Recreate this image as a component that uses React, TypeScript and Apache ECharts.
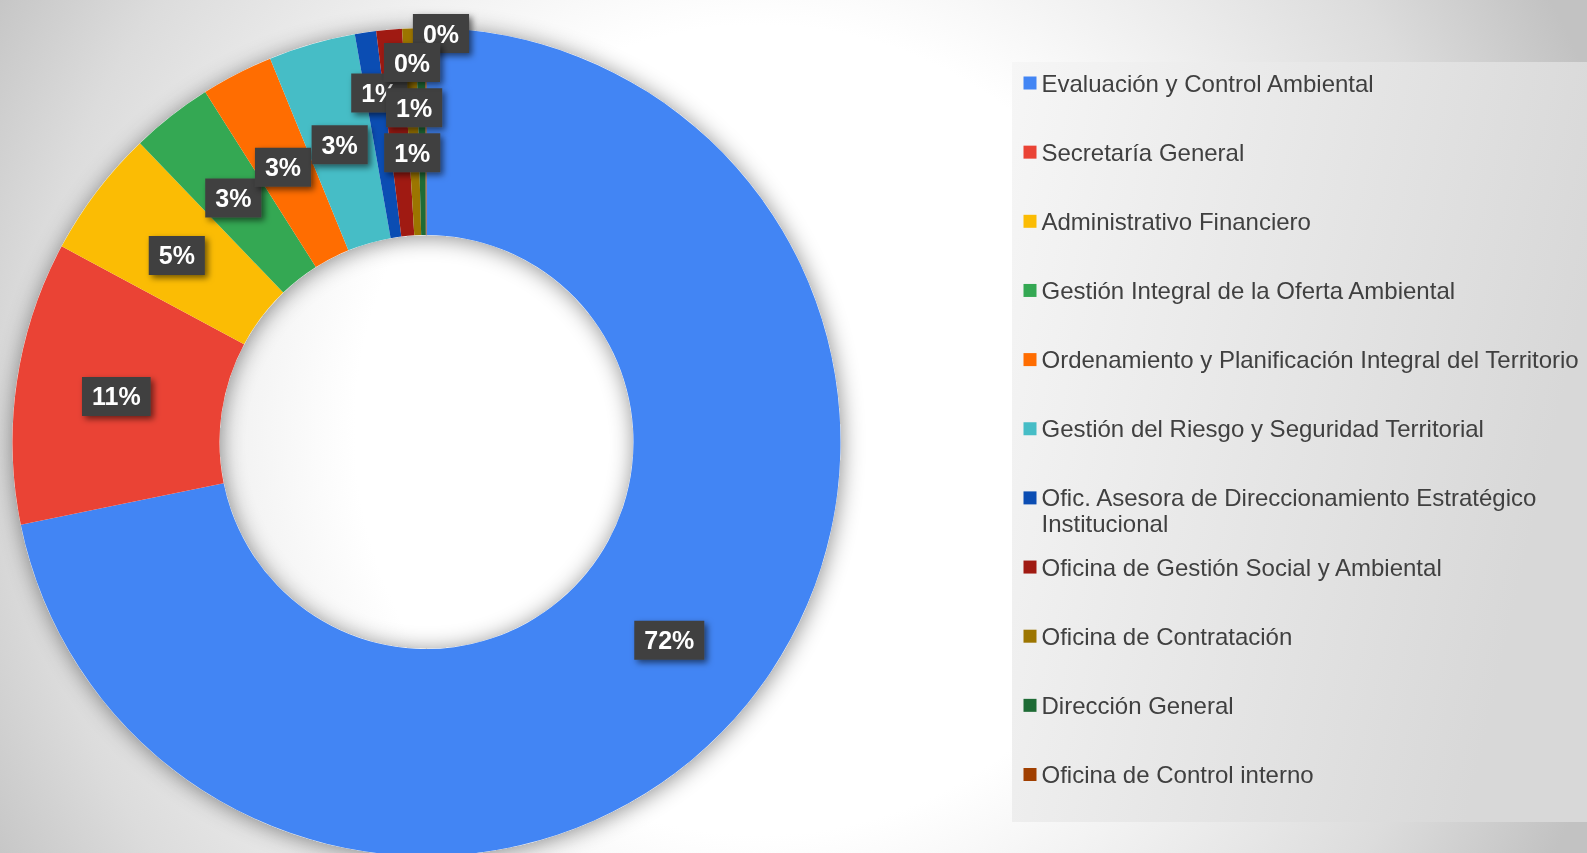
import React, { useEffect, useRef } from 'react';
import * as echarts from 'echarts';

const CATEGORIES = [
  'Evaluación y Control Ambiental',
  'Secretaría General',
  'Administrativo Financiero',
  'Gestión Integral de la Oferta Ambiental',
  'Ordenamiento y Planificación Integral del Territorio',
  'Gestión del Riesgo y Seguridad Territorial',
  'Ofic. Asesora de Direccionamiento Estratégico Institucional',
  'Oficina de Gestión Social y Ambiental',
  'Oficina de Contratación',
  'Dirección General',
  'Oficina de Control interno',
];

const SHARE_VALUES = [71.78, 11.03, 5.0, 3.19, 2.81, 3.39, 0.83, 1.0, 0.53, 0.36, 0.05];

const SLICE_COLORS = [
  '#4285f4', '#ea4335', '#fbbc04', '#34a853', '#ff6d01', '#46bdc6',
  '#0b4db3', '#a01a12', '#9c7500', '#1e6b35', '#a03f00',
];

const LONG_NAME = CATEGORIES[6];
const LONG_NAME_LINES = ['Ofic. Asesora de Direccionamiento Estratégico', 'Institucional'];

export default function App() {
  const ref = useRef<HTMLDivElement>(null);

  useEffect(() => {
    document.body.style.margin = '0';
    const chart = echarts.init(ref.current as HTMLDivElement, null, { renderer: 'svg' });

    const W = 1587;
    const H = 853;
    const cx = 426.5;
    const cy = 442;
    const rIn = 207;
    const rOut = 414;
    const font = "'Liberation Sans', Arial, sans-serif";
    const legendLeft = 1023.5;
    const legendTop = 70;
    const marker = 13;
    const lineH = 26;
    const pitch = 69.15;
    const legendFont = 24;
    const legendColor = '#404040';

    // label nudges (dx, dy), mimicking the manual placement of the labels
    const nudges: Record<number, [number, number]> = {
      2: [0, 3],
      3: [0, 3],
      4: [0, 4],
      5: [0, 4],
      6: [-1, -39],
      7: [16, -22],
      8: [-1, 24],
      9: [19, -95],
      10: [-14, -66],
    };

    const option: any = {
      animation: false,
      graphic: [
        {
          type: 'rect',
          z: -10,
          silent: true,
          shape: { x: 0, y: 0, width: W, height: H },
          style: {
            fill: new echarts.graphic.RadialGradient(760, 430, 900, [
              { offset: 0, color: '#ffffff' },
              { offset: 0.45, color: '#ffffff' },
              { offset: 0.82, color: '#dcdcdc' },
              { offset: 1, color: '#c2c2c2' },
            ], true),
          },
        },
        {
          type: 'rect',
          z: -5,
          silent: true,
          shape: { x: 1012, y: 62, width: W - 1012, height: 760 },
          style: {
            fill: new echarts.graphic.LinearGradient(0, 0, 1, 0.3, [
              { offset: 0, color: '#f6f6f6' },
              { offset: 1, color: '#d8d8d8' },
            ]),
          },
        },
        {
          type: 'text',
          z: 10,
          silent: true,
          x: legendLeft + marker + 5,
          y: legendTop + lineH / 2 + 6 * pitch + lineH,
          style: {
            text: LONG_NAME_LINES[1],
            fill: legendColor,
            font: `${legendFont}px ${font}`,
            verticalAlign: 'middle',
            align: 'left',
          },
        },
      ],
      legend: {
        orient: 'vertical',
        left: legendLeft,
        top: legendTop,
        padding: 0,
        itemWidth: marker,
        itemHeight: marker,
        itemGap: pitch - lineH,
        icon: 'rect',
        selectedMode: false,
        data: CATEGORIES,
        formatter: (name: string) => (name === LONG_NAME ? LONG_NAME_LINES[0] : name),
        textStyle: {
          fontFamily: font,
          fontSize: legendFont,
          color: legendColor,
          lineHeight: lineH,
        },
      },
      series: [
        {
          type: 'pie',
          name: 'shadow',
          z: 1,
          silent: true,
          radius: [rIn, rOut],
          center: [cx, cy],
          label: { show: false },
          labelLine: { show: false },
          emphasis: { disabled: true },
          data: [{ value: 1, name: '__shadow__' }],
          itemStyle: {
            color: '#ffffff',
            shadowBlur: 22,
            shadowColor: 'rgba(0,0,0,0.45)',
            shadowOffsetX: 1,
            shadowOffsetY: 2,
          },
        },
        {
          type: 'pie',
          name: 'main',
          z: 2,
          silent: true,
          radius: [rIn, rOut],
          center: [cx, cy],
          startAngle: 90,
          clockwise: true,
          avoidLabelOverlap: false,
          emphasis: { disabled: true },
          itemStyle: { borderWidth: 0 },
          labelLine: { show: false },
          label: {
            show: true,
            position: 'inside',
            formatter: (p: any) => `${Math.round(p.percent)}%`,
            color: '#ffffff',
            fontFamily: font,
            fontWeight: 'bold',
            fontSize: 25,
            lineHeight: 29,
            padding: [5, 10, 5, 10],
            backgroundColor: '#414141',
            shadowColor: 'rgba(0,0,0,0.55)',
            shadowBlur: 6,
            shadowOffsetX: 3,
            shadowOffsetY: 3,
          },
          labelLayout: (params: any) => {
            const n = nudges[params.dataIndex];
            return n ? { dx: n[0], dy: n[1] } : {};
          },
          data: CATEGORIES.map((name, i) => ({
            name,
            value: SHARE_VALUES[i],
            itemStyle: { color: SLICE_COLORS[i] },
          })),
        },
      ],
    };

    chart.setOption(option);
    return () => {
      chart.dispose();
    };
  }, []);

  return (
    <div
      ref={ref}
      style={{ position: 'fixed', left: 0, top: 0, width: 1587, height: 853 }}
    />
  );
}
